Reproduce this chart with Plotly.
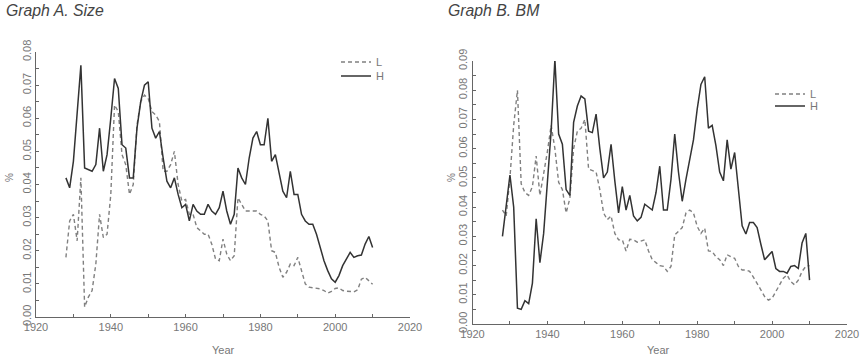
import plotly.graph_objects as go

years = list(range(1928, 2011))

size_L = [0.018, 0.029, 0.031, 0.023, 0.042, 0.003, 0.006, 0.008, 0.016, 0.031,
          0.024, 0.025, 0.037, 0.064, 0.062, 0.049, 0.046, 0.037, 0.040, 0.058,
          0.065, 0.067, 0.066, 0.062, 0.061, 0.059, 0.044, 0.044, 0.046, 0.050,
          0.040, 0.035, 0.0355, 0.031, 0.031, 0.027, 0.026, 0.025, 0.025, 0.022,
          0.0175, 0.017, 0.0235, 0.019, 0.017, 0.0185, 0.036, 0.034, 0.032, 0.032,
          0.032, 0.032, 0.031, 0.0305, 0.029, 0.020, 0.0195, 0.015, 0.012, 0.0135,
          0.016, 0.0155, 0.018, 0.014, 0.010, 0.009, 0.0088, 0.0087, 0.0085, 0.008,
          0.0072, 0.0077, 0.0086, 0.0088, 0.0080, 0.0078, 0.0077, 0.0076, 0.0082, 0.0114,
          0.012, 0.011, 0.0099]
size_H = [0.042, 0.039, 0.047, 0.062, 0.076, 0.045, 0.0445, 0.044, 0.046, 0.057,
          0.044, 0.049, 0.060, 0.072, 0.069, 0.052, 0.051, 0.042, 0.042, 0.057,
          0.065, 0.070, 0.071, 0.057, 0.054, 0.056, 0.048, 0.041, 0.039, 0.042,
          0.037, 0.033, 0.034, 0.029, 0.034, 0.032, 0.031, 0.031, 0.034, 0.032,
          0.031, 0.033, 0.038, 0.032, 0.028, 0.031, 0.045, 0.042, 0.040, 0.048,
          0.054, 0.056, 0.052, 0.052, 0.060, 0.047, 0.049, 0.043, 0.038, 0.036,
          0.044, 0.037, 0.037, 0.031, 0.029, 0.028, 0.028, 0.025, 0.021, 0.017,
          0.014, 0.0115, 0.0105, 0.0125, 0.0155, 0.0175, 0.0195, 0.018, 0.0185, 0.0187,
          0.022, 0.0243, 0.021]

bm_L = [0.039, 0.037, 0.050, 0.068, 0.080, 0.048, 0.045, 0.044, 0.047, 0.0575,
        0.044, 0.051, 0.059, 0.068, 0.060, 0.0485, 0.046, 0.038, 0.043, 0.060,
        0.066, 0.067, 0.070, 0.053, 0.0524, 0.052, 0.046, 0.038, 0.0357, 0.037,
        0.031, 0.0288, 0.0288, 0.025, 0.029, 0.0288, 0.028, 0.0285, 0.0288, 0.025,
        0.022, 0.021, 0.020, 0.0197, 0.018, 0.0197, 0.0305, 0.0317, 0.033, 0.038,
        0.039, 0.038, 0.0334, 0.031, 0.0328, 0.025, 0.0248, 0.023, 0.022, 0.020,
        0.0237, 0.023, 0.0225, 0.0197, 0.0185, 0.0185, 0.018, 0.016, 0.014, 0.0117,
        0.0094, 0.0082, 0.0088, 0.011, 0.0134, 0.0157, 0.0168, 0.0145, 0.0134, 0.015,
        0.018, 0.0197, 0.020]
bm_H = [0.030, 0.040, 0.051, 0.040, 0.0054, 0.005, 0.008, 0.007, 0.014, 0.036,
        0.021, 0.031, 0.048, 0.066, 0.0906, 0.065, 0.0615, 0.046, 0.044, 0.069,
        0.0746, 0.078, 0.077, 0.066, 0.0655, 0.0718, 0.060, 0.050, 0.052, 0.0615,
        0.049, 0.038, 0.047, 0.039, 0.044, 0.037, 0.0353, 0.0365, 0.041, 0.040,
        0.039, 0.045, 0.054, 0.039, 0.039, 0.0495, 0.065, 0.052, 0.042, 0.0495,
        0.056, 0.063, 0.0735, 0.082, 0.0846, 0.067, 0.068, 0.061, 0.052, 0.049,
        0.063, 0.053, 0.0587, 0.046, 0.0336, 0.0308, 0.0347, 0.0347, 0.033, 0.0273,
        0.022, 0.0234, 0.0248, 0.019, 0.018, 0.018, 0.0174, 0.0197, 0.020, 0.019,
        0.0277, 0.031, 0.015]

titles = ["Graph A. Size", "Graph B. BM"]
series_names = ["L", "H"]

W, H = 863, 359
FONT = "Liberation Sans, Arial, sans-serif"
TICK_COLOR = "#777777"
AXIS_COLOR = "#666666"
L_COLOR = "#808080"
H_COLOR = "#333333"

fig = go.Figure()

def px_x(p):
    return p / W

def px_y(p):
    return 1 - p / H

fig.add_trace(go.Scatter(x=years, y=size_L, mode="lines", name=series_names[0],
                         line=dict(color=L_COLOR, width=1.4, dash="4px,3px"),
                         xaxis="x", yaxis="y", legend="legend"))
fig.add_trace(go.Scatter(x=years, y=size_H, mode="lines", name=series_names[1],
                         line=dict(color=H_COLOR, width=1.5),
                         xaxis="x", yaxis="y", legend="legend2"))
fig.add_trace(go.Scatter(x=years, y=bm_L, mode="lines", name=series_names[0],
                         line=dict(color=L_COLOR, width=1.4, dash="4px,3px"),
                         xaxis="x2", yaxis="y2", legend="legend3"))
fig.add_trace(go.Scatter(x=years, y=bm_H, mode="lines", name=series_names[1],
                         line=dict(color=H_COLOR, width=1.5),
                         xaxis="x2", yaxis="y2", legend="legend4"))

xcommon = dict(range=[1920, 2020], tickvals=list(range(1920, 2021, 20)),
               ticks="inside", ticklen=3, tickcolor=AXIS_COLOR,
               minor=dict(dtick=10, tick0=1920, ticks="inside", ticklen=3, tickcolor=AXIS_COLOR),
               showline=True, linecolor=AXIS_COLOR, linewidth=1, showgrid=False,
               zeroline=False, tickfont=dict(family=FONT, size=11, color=TICK_COLOR))
ycommon = dict(ticks="inside", ticklen=3, tickcolor=AXIS_COLOR, tickangle=-90,
               tickformat=".2f", showline=True, linecolor=AXIS_COLOR, linewidth=1,
               showgrid=False, zeroline=False,
               minor=dict(dtick=0.005, ticks="inside", ticklen=3, tickcolor=AXIS_COLOR),
               tickfont=dict(family=FONT, size=11, color=TICK_COLOR))

fig.update_layout(
    width=W, height=H,
    margin=dict(l=0, r=0, t=0, b=0, autoexpand=False),
    paper_bgcolor="white", plot_bgcolor="white",
    xaxis=dict(domain=[px_x(36), px_x(410)], anchor="y", **xcommon),
    yaxis=dict(domain=[px_y(317), px_y(52)], anchor="x", range=[0, 0.08], dtick=0.01, **ycommon),
    xaxis2=dict(domain=[px_x(472.5), px_x(847)], anchor="y2", **xcommon),
    yaxis2=dict(domain=[px_y(324), px_y(61)], anchor="x2", range=[0, 0.09], dtick=0.01, **ycommon),
    showlegend=True,
)

leg_common = dict(bgcolor="rgba(0,0,0,0)", borderwidth=0, xanchor="left", yanchor="middle",
                  font=dict(family=FONT, size=11, color=TICK_COLOR), itemwidth=30)
fig.update_layout(
    legend=dict(x=px_x(336), y=px_y(62), **leg_common),
    legend2=dict(x=px_x(336), y=px_y(76), **leg_common),
    legend3=dict(x=px_x(770), y=px_y(94), **leg_common),
    legend4=dict(x=px_x(770), y=px_y(106), **leg_common),
)

ann = []
ann.append(dict(text="<i>" + titles[0] + "</i>", x=px_x(4), y=px_y(11), xref="paper", yref="paper",
                xanchor="left", yanchor="middle", showarrow=False,
                font=dict(family=FONT, size=15.8, color="#444444")))
ann.append(dict(text="<i>" + titles[1] + "</i>", x=px_x(446), y=px_y(11), xref="paper", yref="paper",
                xanchor="left", yanchor="middle", showarrow=False,
                font=dict(family=FONT, size=15.8, color="#444444")))
for cx in (224, 658):
    ann.append(dict(text="Year", x=px_x(cx), y=px_y(350), xref="paper", yref="paper",
                    xanchor="center", yanchor="middle", showarrow=False,
                    font=dict(family=FONT, size=11, color=TICK_COLOR)))
for cx in (9, 451):
    ann.append(dict(text="%", x=px_x(cx), y=px_y(178), xref="paper", yref="paper",
                    xanchor="center", yanchor="middle", showarrow=False, textangle=-90,
                    font=dict(family=FONT, size=10, color=TICK_COLOR)))
fig.update_layout(annotations=ann)

fig.write_html("out.html", config={"displayModeBar": False},
               post_script="document.body.style.margin='0';document.body.style.padding='0';")
